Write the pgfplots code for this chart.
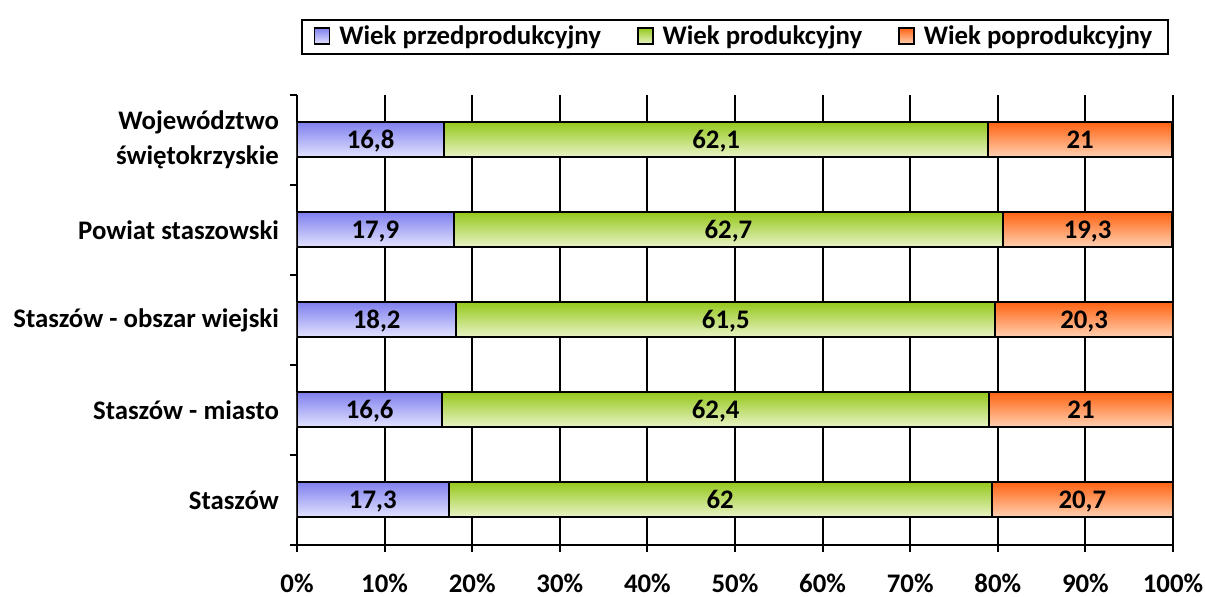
\documentclass[border=0pt]{standalone}
\usepackage{pgfplots}
\usepackage{pgfplotstable}
\pgfplotsset{compat=1.18}
\usepackage{fontspec}
\setmainfont{Carlito}
\definecolor{bTop}{RGB}{128,128,238}
\definecolor{bBot}{RGB}{228,228,255}
\definecolor{gTop}{RGB}{150,200,30}
\definecolor{gBot}{RGB}{234,244,200}
\definecolor{oTop}{RGB}{255,100,20}
\definecolor{oBot}{RGB}{255,210,180}
% r: row (0 = bottom), pre / prod / post: share of age groups (%)
\pgfplotstableread{
r pre prod post
0 17.3 62 20.7
1 16.6 62.4 21
2 18.2 61.5 20.3
3 17.9 62.7 19.3
4 16.8 62.1 21
}\data
\pgfplotsset{
  mybar/.style={xbar, bar width=17.5pt, bar shift=0pt, draw=black, line width=1pt, forget plot},
  lab/.style={only marks, mark=none, forget plot, nodes near coords,
    every node near coord/.append style={anchor=center, text height=8.4pt, text depth=0pt}},
}
\begin{document}
\begin{tikzpicture}[font=\fontsize{13.4}{17.5}\selectfont\bfseries]
\begin{axis}[name=ax,
  scale only axis, width=438pt, height=225pt,
  xmin=0, xmax=100, ymin=-0.5, ymax=4.5,
  /pgf/number format/assume math mode=true,
  /pgf/number format/use comma,
  axis x line*=bottom, axis y line*=left,
  axis line style={line width=1pt},
  xtick={0,10,...,100},
  xticklabels={0\%,10\%,20\%,30\%,40\%,50\%,60\%,70\%,80\%,90\%,100\%},
  xmajorgrids, grid style={black, line width=1pt},
  ytick={-0.5,0.5,...,4.5},
  y tick label as interval,
  yticklabels={Staszów, Staszów - miasto, Staszów - obszar wiejski, Powiat staszowski, {Województwo\\świętokrzyskie}},
  yticklabel style={align=right, xshift=-2pt},
  xticklabel style={yshift=-7.5pt},
  tick align=outside, major tick length=3.5pt,
  tick style={black, line width=1pt},
  legend style={at={(0.5,1)}, anchor=north, yshift=38pt, legend columns=3, draw=black, line width=1pt,
    inner xsep=6pt, inner ysep=1pt, legend cell align=left,
    /tikz/every odd column/.append style={column sep=2.5pt},
    /tikz/every even column/.append style={column sep=16pt}},
  legend image code/.code={\draw[#1, line width=0.8pt] (0pt,-3.6pt) rectangle (7.5pt,4.4pt);},
]
\pgfplotsinvokeforeach{0,...,4}{
  \addplot[mybar, top color=oTop, bottom color=oBot, restrict y to domain=#1:#1]
    table[x expr=\thisrow{pre}+\thisrow{prod}+\thisrow{post}, y=r]{\data};
  \addplot[mybar, top color=gTop, bottom color=gBot, restrict y to domain=#1:#1]
    table[x expr=\thisrow{pre}+\thisrow{prod}, y=r]{\data};
  \addplot[mybar, top color=bTop, bottom color=bBot, restrict y to domain=#1:#1]
    table[x=pre, y=r]{\data};
}
\addplot[lab, point meta=\thisrow{pre}] table[x expr=\thisrow{pre}/2, y=r]{\data};
\addplot[lab, point meta=\thisrow{prod}] table[x expr=\thisrow{pre}+\thisrow{prod}/2, y=r]{\data};
\addplot[lab, point meta=\thisrow{post}] table[x expr=\thisrow{pre}+\thisrow{prod}+\thisrow{post}/2, y=r]{\data};
\addlegendimage{draw=black, top color=bTop, bottom color=bBot}
\addlegendentry{Wiek przedprodukcyjny}
\addlegendimage{draw=black, top color=gTop, bottom color=gBot}
\addlegendentry{Wiek produkcyjny}
\addlegendimage{draw=black, top color=oTop, bottom color=oBot}
\addlegendentry{Wiek poprodukcyjny}
\end{axis}
\pgfresetboundingbox
\useasboundingbox ([xshift=-148.5pt,yshift=-26pt]ax.south west) rectangle ([xshift=16pt,yshift=47.5pt]ax.north east);
\end{tikzpicture}
\end{document}
